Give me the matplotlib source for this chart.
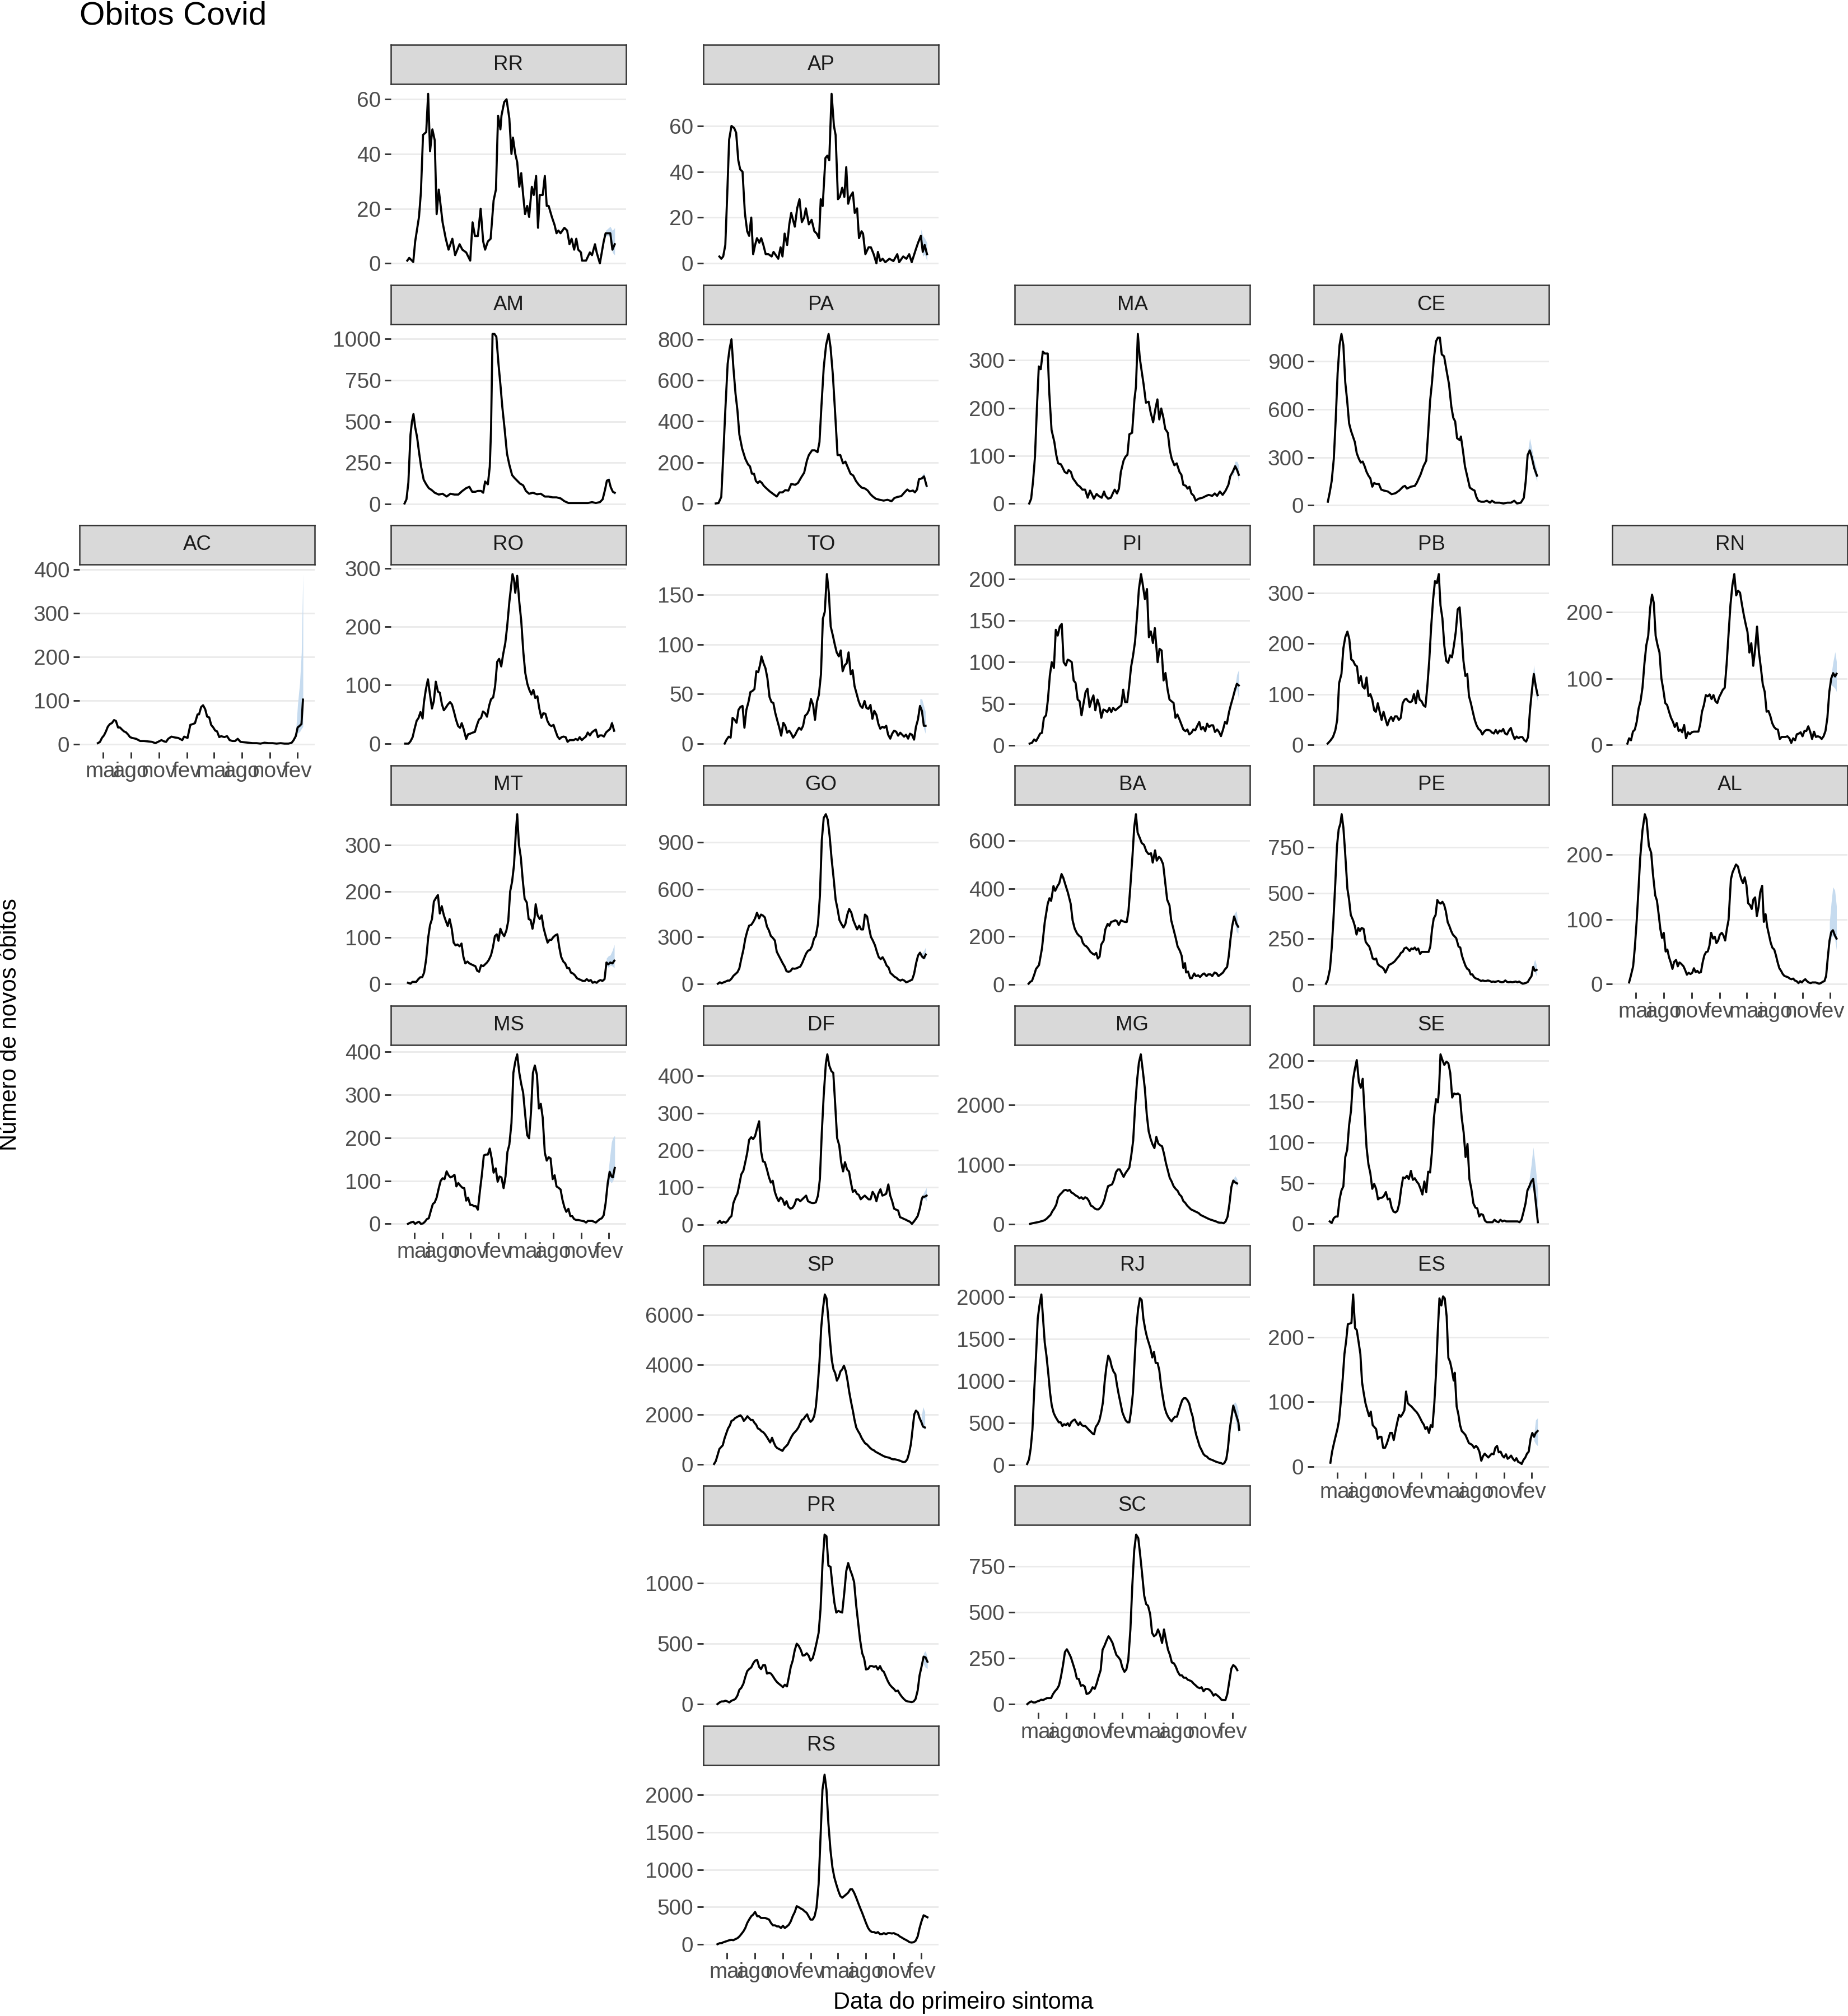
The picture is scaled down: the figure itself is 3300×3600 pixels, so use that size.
import numpy as np
import pandas as pd
import matplotlib
matplotlib.use('Agg')
import matplotlib.pyplot as plt

plt.rcParams['font.family'] = ['Liberation Sans', 'DejaVu Sans']

# semanas contadas a partir desta data
inicio = pd.Timestamp('2020-03-20')

# (semana, obitos)
RR = [(2.7,1),(3.6,2),(5.5,0.5),(6.4,8),(8.2,17),(9.1,26),(10.1,47),(11.6,48),(12.5,62),(13.4,41),(14.5,49),(15.6,45),(16.5,18),(17.5,27),(19.3,15),(20.8,9),(22.1,5),(23.9,9),(25.2,3),(27.3,7),(28.6,5),(30.4,4),(32.3,1),(33.4,15),(34.5,10),(35.9,10),(37.2,20),(38.4,8),(39.3,5),(40.6,8),(41.9,9),(43.3,23),(44.4,27),(45.4,54),(46.5,49),(47.0,54),(48.3,59),(49.4,60),(50.7,53),(51.7,40),(52.4,46),(53.5,40),(54.4,37),(55.4,28),(56.3,33),(57.2,25),(58.1,18),(59.1,21),(60.0,17),(61.3,28),(62.2,25),(63.3,32),(64.2,13),(65.0,25),(66.4,25),(67.4,32),(68.3,21),(69.2,21),(70.7,17),(72.0,14),(72.9,11),(73.8,12),(74.8,11),(76.6,13),(77.9,12),(79.0,7),(80.0,9),(81.2,5),(82.2,9),(83.1,5),(84.4,4),(84.9,1),(86.8,1),(88.6,4),(89.6,3),(91.0,7),(91.8,4),(93.3,0),(95.1,8),(96.0,11),(98.2,11),(99.2,5),(100.3,7)]
AP = [(2.5,3),(3.4,2),(4.3,3),(5.3,8),(6.2,30),(7.1,54),(8.2,60),(9.5,59),(10.4,57),(11.4,45),(12.3,41),(13.4,40),(14.5,22),(15.6,14),(16.5,12),(17.5,20),(18.4,4),(19.3,8),(20.2,11),(21.3,9),(22.2,11),(23.2,8),(24.3,4),(25.6,4),(27.1,3),(28.0,5),(30.2,2),(31.3,7),(32.2,3),(33.2,13),(34.4,8),(35.4,17),(36.3,22),(38.0,16),(39.1,24),(40.2,28),(41.3,18),(42.4,20),(43.2,24),(44.6,17),(45.9,19),(47.2,14),(48.3,13),(49.4,11),(50.2,28),(51.1,25),(52.4,46),(53.3,47),(54.2,45),(55.3,74),(56.4,60),(57.2,56),(58.3,28),(59.2,29),(60.3,33),(61.3,29),(62.2,42),(63.1,26),(64.0,29),(65.3,31),(66.2,22),(67.3,24),(68.2,11),(69.4,14),(70.1,13),(71.2,4),(72.7,7),(73.8,7),(75.1,4),(76.4,0),(77.1,5),(78.2,1),(79.3,2),(80.6,0.5),(82.5,2),(84.4,1),(86.2,4),(87.1,0.5),(89.0,3),(90.5,2),(91.8,4),(93.0,0.5),(94.9,6),(96.0,9),(97.3,12),(98.2,5),(99.1,8),(100.2,4)]
AM = [(1.4,3),(2.3,28),(3.2,130),(4.2,420),(4.9,500),(5.6,545),(6.4,465),(7.3,405),(8.2,315),(9.2,225),(10.4,147),(11.6,119),(12.8,96),(14.1,85),(15.6,68),(17.5,57),(19.3,62),(21.2,45),(23.0,62),(24.9,57),(26.7,57),(28.6,79),(30.4,96),(31.9,104),(33.2,74),(34.7,74),(35.9,79),(37.4,79),(38.4,68),(39.3,136),(40.6,119),(41.5,226),(42.1,452),(42.8,1030),(43.7,1030),(44.6,1013),(45.6,848),(46.5,724),(47.4,588),(48.5,452),(49.6,305),(50.7,238),(52.0,175),(53.1,158),(54.4,141),(55.7,124),(57.2,113),(58.5,79),(60.0,62),(61.8,68),(63.7,59),(65.5,62),(67.4,45),(69.2,45),(71.1,40),(72.9,40),(74.8,34),(76.6,17),(78.5,6),(80.3,6),(82.2,6),(84.0,6),(85.9,6),(87.7,6),(89.6,11),(91.4,6),(93.3,11),(94.6,28),(95.7,85),(96.6,141),(97.5,147),(98.4,102),(99.4,74),(100.3,68)]
PA = [(0.8,0),(2.1,2),(3.4,32),(4.3,227),(5.3,454),(6.4,680),(7.3,753),(8.2,800),(9.1,662),(10.1,535),(11.0,454),(11.9,336),(13.2,268),(14.7,218),(16.0,190),(16.9,181),(17.8,145),(18.8,145),(19.7,109),(20.6,100),(21.5,109),(22.5,100),(23.4,86),(24.3,77),(26.2,59),(28.0,45),(29.5,34),(30.8,54),(32.2,54),(33.5,65),(35.0,63),(36.3,95),(38.2,91),(39.5,100),(41.0,127),(42.4,150),(43.7,209),(44.6,236),(46.1,259),(47.4,259),(48.7,250),(49.6,299),(50.5,471),(51.6,662),(52.7,771),(53.9,826),(54.8,762),(55.9,626),(57.0,435),(58.1,236),(59.4,236),(60.7,195),(61.8,204),(63.1,172),(64.2,145),(65.5,136),(66.8,109),(68.1,91),(69.5,77),(71.0,73),(72.3,63),(73.6,45),(74.7,34),(76.1,23),(77.9,18),(79.8,14),(81.6,18),(83.5,11),(84.9,27),(86.4,32),(88.1,36),(89.6,54),(90.9,68),(92.1,59),(93.6,63),(94.5,54),(95.5,68),(96.4,118),(97.7,122),(98.8,132),(100.0,86)]
MA = [(1.8,0),(2.7,10),(3.6,47),(4.5,98),(5.4,199),(6.3,287),(7.2,281),(8.2,318),(9.1,314),(10.5,314),(11.2,234),(12.3,154),(13.6,129),(14.5,102),(15.4,84),(16.7,82),(17.4,76),(18.5,66),(19.6,63),(20.3,70),(21.4,66),(22.3,53),(23.6,45),(24.5,39),(25.7,35),(26.8,29),(28.1,29),(29.3,12),(30.4,27),(31.2,20),(32.2,10),(33.5,20),(34.4,16),(35.9,12),(37.0,25),(37.7,16),(38.9,10),(40.2,12),(41.3,23),(42.0,29),(43.1,21),(44.0,31),(44.9,66),(46.2,90),(47.1,98),(48.0,102),(48.9,145),(50.2,148),(51.3,218),(52.0,244),(52.9,355),(53.8,305),(54.7,277),(55.6,250),(56.7,211),(58.0,213),(58.9,191),(60.1,170),(61.2,199),(62.1,218),(63.0,176),(63.9,199),(64.9,180),(65.8,156),(67.0,148),(67.9,113),(68.8,94),(70.1,80),(71.2,84),(72.5,66),(73.4,60),(74.3,39),(75.5,37),(76.3,31),(77.2,35),(78.1,21),(79.2,16),(80.1,6),(81.5,10),(83.3,12),(85.1,16),(86.2,18),(87.9,16),(89.1,21),(90.2,16),(91.5,25),(92.8,18),(94.2,27),(95.5,39),(96.4,57),(97.5,66),(98.7,78),(99.6,70),(100.4,60)]
CE = [(1.6,23),(2.5,82),(3.4,152),(4.4,291),(5.3,536),(6.2,827),(7.1,1002),(8.0,1072),(8.9,1002),(9.8,769),(10.7,653),(11.6,513),(12.5,466),(13.4,431),(14.3,396),(15.2,326),(16.2,291),(17.1,268),(18.0,274),(18.9,245),(19.8,210),(20.7,186),(21.6,169),(22.5,117),(23.4,140),(24.3,134),(25.6,134),(26.7,99),(27.9,93),(29.8,87),(31.6,70),(33.4,76),(35.2,93),(37.0,117),(37.9,122),(38.8,105),(40.7,117),(42.5,122),(43.4,140),(45.2,192),(46.6,245),(47.9,280),(48.8,455),(49.7,653),(50.6,769),(51.5,921),(52.5,1026),(53.4,1049),(54.3,1049),(55.2,944),(56.3,932),(57.5,839),(58.6,758),(59.7,618),(60.6,548),(61.5,525),(62.4,420),(63.7,408),(64.2,431),(65.2,338),(66.1,245),(67.3,175),(68.4,111),(69.7,99),(70.6,93),(71.5,52),(72.4,29),(73.7,23),(75.1,23),(76.4,29),(77.9,17),(78.8,29),(80.2,17),(82.4,17),(84.2,12),(86.0,17),(87.8,17),(89.3,29),(90.6,12),(92.4,17),(93.8,47),(94.7,152),(95.6,315),(96.6,344),(97.5,303),(98.7,233),(100.0,186)]
AC = [(3.6,2),(4.6,5),(5.5,14),(6.5,20),(7.4,29),(8.3,40),(9.3,46),(10.2,48),(11.2,55),(12.1,53),(13.1,38),(14.0,38),(15.0,33),(15.9,29),(16.8,27),(17.8,22),(18.7,16),(19.7,14),(21.6,12),(23.5,7),(25.3,7),(27.2,6),(29.1,5),(30.6,2),(31.9,5),(33.5,9),(34.8,6),(35.7,5),(36.7,12),(38.2,17),(39.9,15),(41.4,14),(43.3,9),(44.2,17),(45.8,14),(47.1,44),(48.4,46),(49.3,48),(50.5,68),(51.2,68),(52.2,85),(53.1,89),(54.1,80),(55.0,63),(56.0,61),(56.9,44),(57.9,38),(58.8,31),(59.7,29),(60.7,16),(61.6,18),(63.1,16),(64.4,18),(65.6,9),(66.9,7),(68.2,7),(69.4,12),(70.7,5),(72.6,4),(74.5,3),(76.4,2),(78.3,2),(80.1,1),(82.0,3),(83.9,2),(85.8,2),(87.7,1),(89.6,2),(91.4,1),(93.3,1),(94.8,3),(95.7,9),(96.7,18),(97.6,38),(98.6,42),(99.4,46),(100.1,102)]
RO = [(1.7,0),(3.3,0),(4.2,4),(5.2,11),(6.1,25),(7.1,39),(8.0,44),(8.9,54),(9.9,43),(10.5,70),(11.4,92),(12.4,110),(13.3,86),(14.3,60),(15.2,73),(16.1,106),(17.1,89),(18.0,87),(19.0,67),(19.9,57),(20.9,62),(21.8,67),(22.8,71),(23.7,67),(24.7,54),(25.6,41),(26.6,30),(27.5,27),(28.3,35),(29.2,25),(30.4,8),(31.3,16),(32.3,17),(33.6,19),(34.5,20),(35.5,32),(36.4,41),(37.4,44),(38.3,55),(39.3,52),(40.2,46),(41.2,65),(42.1,76),(43.1,79),(44.0,98),(45.0,140),(45.9,145),(46.9,132),(47.8,153),(48.8,172),(49.7,201),(50.7,242),(51.6,271),(52.2,290),(52.9,280),(53.5,258),(54.4,287),(55.4,242),(56.3,210),(57.3,156),(58.2,121),(59.2,102),(60.1,92),(61.1,84),(62.0,92),(62.9,78),(63.9,81),(64.8,60),(65.8,44),(66.7,52),(67.7,51),(68.6,39),(69.6,32),(70.5,30),(71.5,32),(72.4,22),(73.4,12),(74.3,8),(75.3,11),(76.2,12),(77.2,11),(78.1,3),(79.1,6),(80.0,6),(81.0,6),(81.9,8),(82.9,6),(83.8,11),(84.8,6),(85.7,9),(86.7,12),(87.6,19),(88.6,14),(89.5,19),(90.5,22),(91.4,24),(92.4,11),(93.3,14),(94.3,14),(95.2,12),(96.2,19),(97.1,22),(98.1,25),(99.0,35),(100.0,22)]
TO = [(5.0,0),(5.9,4),(6.9,7),(7.8,6),(8.7,26),(9.7,24),(10.6,21),(11.5,34),(12.4,37),(13.4,38),(14.3,16),(15.2,34),(16.2,42),(17.1,52),(18.0,53),(19.0,55),(19.9,73),(20.8,72),(21.8,81),(22.3,88),(23.3,81),(24.2,76),(25.1,66),(26.1,47),(27.0,42),(27.9,41),(28.8,31),(29.8,23),(30.7,16),(31.6,8),(32.6,21),(33.5,18),(34.4,11),(35.4,13),(36.3,10),(37.2,6),(38.2,9),(39.1,13),(40.0,16),(41.0,14),(41.9,18),(42.8,28),(43.8,30),(44.7,34),(45.6,45),(46.6,39),(47.5,24),(48.4,42),(49.3,49),(50.3,70),(51.2,126),(52.1,133),(53.1,171),(54.0,152),(54.9,118),(55.9,109),(56.8,100),(57.7,92),(58.7,88),(59.6,94),(60.5,73),(61.5,79),(62.4,81),(63.3,92),(64.3,70),(65.2,74),(66.1,58),(67.0,51),(68.0,43),(68.9,38),(69.8,36),(70.8,43),(71.7,36),(72.6,35),(73.6,39),(74.5,25),(75.4,33),(76.4,29),(77.3,20),(78.2,15),(79.2,17),(80.1,16),(81.0,18),(81.9,9),(82.9,5),(83.8,10),(84.7,13),(85.7,12),(86.6,8),(87.6,11),(88.5,9),(89.4,7),(90.3,9),(91.3,5),(92.2,10),(93.1,9),(94.1,4),(95.0,17),(95.9,24),(96.9,38),(97.8,33),(98.7,18),(99.5,18)]
PI = [(2.0,2),(3.1,3),(4.1,7),(5.0,5),(5.9,9),(6.9,14),(7.8,15),(8.7,33),(9.7,36),(10.6,55),(11.5,84),(12.4,100),(13.4,93),(14.3,139),(15.2,132),(16.2,143),(17.1,146),(18.0,100),(19.0,96),(19.9,103),(20.8,102),(21.8,100),(22.7,78),(23.6,75),(24.6,55),(25.5,53),(26.4,36),(27.4,51),(28.3,64),(29.2,68),(30.2,46),(31.1,54),(32.0,60),(32.9,42),(33.9,55),(34.8,48),(35.7,33),(36.7,43),(37.6,42),(38.5,40),(39.5,45),(40.4,40),(41.3,45),(42.3,42),(43.2,44),(44.1,46),(45.1,48),(46.0,67),(46.9,52),(47.9,52),(48.8,71),(49.7,94),(50.6,107),(51.6,125),(52.5,155),(53.4,188),(54.4,206),(55.3,192),(56.2,176),(57.2,188),(58.1,130),(59.0,137),(60.0,123),(60.9,141),(62.2,100),(63.1,116),(64.1,114),(65.0,78),(65.9,87),(66.9,67),(67.8,55),(68.7,53),(69.7,51),(70.6,33),(71.5,37),(72.5,31),(73.4,25),(74.3,19),(75.3,17),(76.2,19),(77.1,13),(78.1,15),(79.0,19),(79.9,18),(80.8,23),(81.8,28),(82.7,19),(83.6,22),(84.6,17),(85.5,26),(86.4,22),(87.4,24),(88.3,24),(89.2,16),(90.2,19),(91.1,16),(92.0,11),(93.0,19),(93.9,28),(94.8,26),(95.8,40),(96.7,49),(97.6,57),(98.6,67),(99.5,74),(100.4,72)]
PB = [(1.5,2),(2.8,8),(4.0,15),(5.1,28),(6.0,49),(6.9,122),(8.0,140),(8.9,191),(9.8,213),(10.8,224),(11.7,209),(12.6,169),(13.5,166),(14.4,158),(15.3,155),(16.2,122),(17.1,136),(18.0,115),(18.9,111),(19.8,133),(20.7,96),(21.6,100),(22.5,89),(23.4,68),(24.2,65),(25.1,82),(26.0,65),(26.9,49),(27.8,65),(28.7,51),(29.6,38),(30.5,49),(31.4,55),(32.3,47),(33.2,56),(34.1,56),(35.0,49),(35.9,53),(36.8,82),(37.7,89),(38.5,91),(39.4,86),(40.3,84),(41.2,86),(42.1,100),(43.0,82),(43.9,107),(44.8,89),(45.7,86),(46.6,78),(47.5,75),(48.4,115),(49.3,166),(50.2,233),(51.1,287),(52.0,324),(52.9,320),(53.8,338),(54.6,276),(55.5,250),(56.4,196),(57.3,166),(58.2,162),(59.1,177),(60.0,173),(60.9,196),(61.8,224),(62.7,268),(63.6,272),(64.5,224),(65.4,166),(66.3,136),(67.2,140),(68.0,96),(68.9,82),(69.8,65),(70.7,49),(71.6,38),(72.5,31),(73.4,28),(74.3,20),(75.2,26),(76.1,29),(77.0,29),(77.9,28),(78.8,24),(79.7,22),(80.6,29),(81.5,22),(82.4,28),(83.3,26),(84.1,31),(85.0,22),(85.9,20),(86.8,28),(87.7,33),(88.6,20),(89.5,11),(90.4,16),(91.3,13),(92.2,15),(93.1,15),(94.0,9),(94.9,6),(95.8,15),(96.7,68),(97.6,107),(98.5,140),(99.4,116),(100.3,98)]
RN = [(2.1,2),(2.9,10),(3.8,7),(4.7,20),(5.6,23),(6.5,35),(7.4,55),(8.3,66),(9.2,86),(10.1,122),(11.0,150),(11.9,164),(12.8,206),(13.7,226),(14.5,214),(15.4,164),(16.3,150),(17.2,139),(18.1,100),(19.0,83),(19.9,63),(20.8,60),(21.7,50),(22.6,41),(23.5,35),(24.4,27),(25.3,33),(26.2,21),(27.1,23),(27.9,19),(28.8,30),(29.7,10),(30.6,19),(31.5,16),(32.4,19),(33.3,20),(34.6,20),(35.5,20),(36.3,30),(37.2,50),(38.1,60),(39.0,75),(39.9,73),(40.8,76),(41.7,69),(42.6,75),(43.5,66),(44.4,63),(45.3,72),(46.1,77),(47.0,83),(47.9,86),(48.8,122),(49.7,167),(50.6,211),(51.5,240),(52.4,257),(53.3,225),(54.2,232),(55.1,229),(56.0,211),(56.9,195),(57.8,181),(58.6,170),(59.5,139),(60.4,153),(61.3,119),(62.2,144),(63.1,178),(64.0,139),(64.9,116),(65.8,91),(66.7,80),(67.6,50),(68.5,51),(69.4,43),(70.2,33),(71.1,27),(72.0,24),(72.9,23),(73.8,9),(74.7,12),(75.6,12),(76.5,12),(77.4,13),(78.3,10),(79.2,3),(80.1,10),(81.0,7),(81.8,16),(82.7,17),(83.6,19),(84.5,13),(85.4,21),(86.3,21),(87.2,28),(88.1,20),(89.0,9),(89.9,20),(90.8,12),(91.7,13),(92.6,12),(93.5,9),(94.4,13),(95.3,21),(96.2,41),(97.1,80),(98.0,100),(98.9,108),(99.8,103),(100.5,107)]
MT = [(3.0,2),(4.2,0),(5.1,4),(6.0,4),(6.9,4),(7.9,10),(8.8,14),(9.7,14),(10.6,24),(11.6,54),(12.5,99),(13.4,127),(14.3,140),(15.2,178),(16.2,186),(17.1,192),(18.0,152),(18.9,168),(19.9,148),(20.8,136),(21.7,125),(22.6,140),(23.6,119),(24.5,89),(25.4,83),(26.3,85),(27.3,81),(28.2,87),(29.1,58),(30.0,44),(31.0,48),(31.9,44),(32.8,42),(33.7,40),(34.7,38),(35.6,28),(36.5,26),(37.4,40),(38.4,38),(39.3,42),(40.2,46),(41.1,52),(42.1,62),(43.0,79),(43.9,103),(44.8,107),(45.6,93),(46.5,119),(47.4,109),(48.3,103),(49.3,115),(50.2,136),(51.1,200),(52.0,221),(52.9,257),(53.7,322),(54.4,367),(55.2,302),(56.1,274),(57.0,225),(57.9,184),(58.9,176),(59.8,140),(60.7,138),(61.6,119),(62.6,144),(63.1,172),(64.0,148),(65.0,140),(65.9,148),(66.8,121),(67.7,105),(68.7,89),(69.6,95),(70.5,95),(71.4,101),(72.4,105),(73.3,107),(74.2,79),(75.1,58),(76.1,48),(77.0,44),(77.9,34),(78.8,34),(79.7,24),(80.7,22),(81.6,18),(82.5,12),(83.4,10),(84.4,8),(85.3,6),(86.2,6),(87.1,10),(88.1,6),(89.0,8),(89.9,2),(90.8,4),(91.8,2),(92.7,6),(93.6,8),(94.5,6),(95.5,10),(96.4,46),(97.3,42),(98.2,46),(99.2,44),(100.1,50)]
GO = [(1.8,2),(2.7,11),(3.6,5),(4.5,11),(5.5,16),(6.4,22),(7.3,22),(8.2,34),(9.1,52),(10.1,64),(11.0,75),(11.9,99),(12.8,158),(13.8,217),(14.7,287),(15.6,334),(16.5,370),(17.5,375),(18.4,393),(19.3,416),(20.2,452),(21.2,416),(22.1,440),(23.0,434),(23.9,422),(24.9,364),(25.8,340),(26.7,305),(27.6,293),(28.6,276),(29.5,205),(30.4,181),(31.3,158),(32.2,134),(33.2,111),(34.1,81),(35.0,78),(35.9,81),(36.9,99),(37.8,97),(38.7,99),(39.6,105),(40.6,111),(41.5,134),(42.4,164),(43.3,193),(44.2,211),(45.2,217),(46.1,240),(47.0,287),(47.9,305),(48.9,381),(49.8,558),(50.7,912),(51.6,1053),(52.6,1076),(53.5,1041),(54.4,935),(55.3,794),(56.3,665),(57.2,535),(58.1,476),(59.0,405),(59.9,381),(60.9,358),(61.8,381),(62.7,440),(63.6,476),(64.6,452),(65.5,405),(66.4,375),(67.3,346),(68.3,370),(69.2,346),(70.1,346),(71.0,440),(72.0,428),(72.9,358),(73.8,299),(74.7,276),(75.7,246),(76.6,205),(77.5,170),(78.4,158),(79.3,170),(80.3,146),(81.2,117),(82.1,105),(83.0,70),(84.0,58),(84.9,46),(85.8,40),(86.7,28),(87.7,22),(88.6,28),(89.5,22),(90.4,11),(91.4,16),(92.3,22),(93.2,28),(94.1,64),(95.1,134),(96.0,181),(96.9,199),(97.8,175),(98.7,164),(99.6,187)]
BA = [(1.5,3),(2.3,11),(3.1,15),(4.2,42),(5.0,65),(6.4,81),(7.8,151),(9.1,260),(10.5,337),(11.3,360),(12.1,349),(13.2,411),(14.0,391),(15.1,411),(15.9,422),(17.0,461),(17.8,446),(18.9,414),(20.0,383),(21.3,337),(22.2,268),(23.2,233),(24.3,213),(25.4,202),(26.2,198),(27.0,174),(27.9,163),(28.7,159),(29.5,151),(30.6,136),(31.7,128),(32.5,124),(33.3,132),(34.1,108),(34.9,116),(35.7,167),(36.8,183),(37.6,230),(38.7,253),(39.5,245),(40.3,261),(41.4,264),(42.3,268),(43.1,264),(43.9,248),(45.0,268),(45.8,264),(46.9,261),(47.7,261),(48.5,307),(49.3,400),(50.4,540),(51.2,657),(52.0,711),(52.8,634),(53.9,610),(54.7,591),(55.8,583),(56.9,556),(58.0,544),(59.1,548),(59.9,509),(61.0,560),(61.8,517),(62.9,533),(63.7,525),(64.8,502),(65.6,440),(66.7,354),(67.8,330),(68.6,268),(69.7,230),(70.8,191),(71.6,159),(72.7,140),(73.5,120),(74.3,69),(75.1,89),(75.6,50),(76.5,54),(77.5,26),(78.3,26),(79.4,46),(80.2,35),(81.3,38),(82.2,31),(83.3,42),(84.1,46),(85.2,35),(86.0,42),(87.1,42),(87.9,35),(89.0,50),(90.0,46),(90.8,35),(91.9,42),(93.0,50),(93.8,62),(94.9,73),(95.7,120),(96.5,190),(97.3,244),(98.2,284),(99.3,253),(100.1,241)]
PE = [(0.7,4),(1.5,24),(2.6,85),(3.4,197),(4.2,349),(5.1,552),(5.9,757),(6.7,849),(7.5,879),(8.1,931),(8.9,859),(9.7,727),(10.8,523),(11.6,463),(12.4,380),(13.5,350),(14.3,319),(15.1,273),(15.9,309),(16.7,293),(17.5,309),(18.4,304),(19.4,233),(20.3,218),(21.1,207),(21.9,178),(22.7,142),(23.5,137),(24.3,142),(25.1,111),(26.0,101),(27.0,95),(27.9,85),(28.7,65),(29.5,85),(30.3,106),(31.1,111),(31.9,116),(33.0,126),(34.1,142),(35.2,157),(36.0,173),(36.8,178),(37.6,197),(38.5,202),(39.3,193),(40.1,183),(40.9,197),(41.7,193),(42.5,202),(43.3,188),(44.1,197),(45.0,167),(45.8,178),(46.6,178),(47.4,178),(48.2,178),(49.0,178),(49.8,207),(50.6,299),(51.4,360),(52.3,380),(53.1,462),(53.9,447),(54.7,442),(55.5,452),(56.3,436),(57.1,401),(58.0,340),(58.8,319),(59.6,293),(60.4,273),(61.2,263),(62.0,253),(63.1,207),(63.9,202),(64.7,157),(65.6,126),(66.4,101),(67.2,85),(68.0,80),(68.8,55),(69.6,55),(70.4,40),(71.2,33),(72.1,30),(72.9,24),(73.7,19),(74.5,22),(75.3,19),(76.1,19),(76.9,22),(77.8,19),(78.6,14),(79.4,16),(80.2,14),(81.0,16),(81.8,19),(82.7,14),(83.5,12),(84.3,14),(85.1,22),(85.9,14),(86.7,12),(87.5,14),(88.4,12),(89.2,14),(90.0,16),(90.8,12),(91.6,16),(92.5,9),(93.3,4),(94.1,6),(94.9,9),(95.7,14),(96.5,30),(97.4,45),(98.2,96),(99.0,75),(99.8,80)]
AL = [(2.9,2),(3.7,12),(4.8,27),(5.6,56),(6.5,99),(7.3,145),(8.1,194),(9.2,238),(10.3,263),(11.1,255),(12.2,214),(13.3,203),(14.1,171),(15.2,137),(16.0,129),(16.8,108),(17.6,85),(18.4,71),(19.2,79),(20.1,50),(20.9,53),(21.7,41),(22.5,33),(23.3,23),(24.1,34),(25.0,37),(25.8,27),(26.6,33),(27.4,31),(28.5,27),(29.3,21),(30.1,14),(30.9,17),(31.8,15),(32.6,17),(33.4,24),(34.2,18),(35.0,20),(35.8,17),(36.7,18),(37.5,33),(38.3,44),(39.1,49),(39.9,50),(40.7,59),(41.5,79),(42.4,70),(43.2,73),(44.0,63),(44.8,67),(45.6,76),(46.5,79),(47.3,75),(48.1,67),(48.9,85),(49.7,99),(50.8,162),(51.6,173),(52.4,179),(53.2,185),(54.1,182),(54.9,171),(55.7,162),(56.5,156),(57.3,165),(58.1,153),(58.9,125),(59.8,122),(60.6,116),(61.4,131),(62.2,134),(63.0,105),(63.8,119),(64.6,142),(65.5,152),(66.3,96),(67.1,108),(67.9,88),(68.7,76),(69.5,64),(70.3,56),(71.2,53),(72.0,44),(72.8,33),(73.6,24),(74.4,20),(75.2,15),(76.0,12),(76.9,11),(77.7,10),(78.5,8),(79.3,7),(80.1,8),(80.9,5),(81.7,4),(82.6,1),(83.4,4),(84.2,2),(85.0,5),(85.8,7),(86.6,4),(87.4,2),(88.3,1),(89.1,2),(89.9,2),(90.7,2),(91.5,1),(92.3,0),(93.1,1),(94.0,3),(94.8,4),(95.6,12),(96.4,41),(97.2,67),(98.0,80),(98.8,83),(99.7,75),(100.5,70)]
MS = [(3.0,0),(4.2,3),(5.5,5),(6.4,0),(7.3,3),(8.2,5),(9.1,0),(10.1,1),(11.0,5),(11.9,11),(12.8,13),(13.8,31),(14.7,46),(15.6,50),(16.5,61),(17.5,83),(18.4,100),(19.3,106),(20.2,104),(21.2,122),(22.1,113),(23.0,108),(23.9,110),(24.9,114),(25.8,87),(26.7,95),(27.6,89),(28.6,84),(29.5,83),(30.4,54),(31.3,61),(32.3,44),(33.2,44),(34.1,41),(35.0,41),(35.9,33),(36.9,78),(37.8,115),(38.7,159),(39.6,161),(40.6,161),(41.5,175),(42.4,152),(43.3,119),(44.3,129),(45.2,98),(46.1,110),(47.0,108),(48.0,83),(48.9,110),(49.8,167),(50.7,184),(51.7,234),(52.6,351),(53.5,377),(54.4,394),(55.4,351),(56.3,325),(57.2,305),(58.1,257),(59.1,206),(60.0,199),(60.9,260),(61.8,351),(62.7,368),(63.7,346),(64.6,268),(65.5,279),(66.4,247),(67.4,165),(68.3,147),(69.2,155),(70.1,152),(71.1,104),(72.0,113),(72.9,87),(73.8,84),(74.8,80),(75.7,56),(76.6,39),(77.5,28),(78.5,35),(79.4,18),(80.3,18),(81.2,11),(82.2,9),(83.1,9),(84.0,8),(84.9,7),(85.9,6),(86.8,3),(87.7,7),(88.6,7),(89.6,7),(90.5,5),(91.4,3),(92.3,7),(93.3,11),(94.2,13),(95.1,20),(96.0,48),(97.0,95),(97.9,121),(98.8,110),(99.4,108),(100.3,130)]
DF = [(1.8,5),(2.7,10),(3.6,4),(4.5,8),(5.5,5),(6.4,10),(7.3,18),(8.2,23),(9.1,58),(10.1,73),(11.0,83),(11.9,108),(12.8,135),(13.8,145),(14.7,168),(15.6,193),(16.5,228),(17.5,235),(18.4,230),(19.3,238),(20.2,258),(21.2,278),(22.1,198),(23.0,170),(23.9,168),(24.9,148),(25.8,128),(26.7,113),(27.6,118),(28.6,88),(29.5,73),(30.4,63),(31.3,73),(32.2,68),(33.2,53),(34.1,63),(35.0,48),(35.9,43),(36.9,45),(37.8,53),(38.7,68),(39.6,68),(40.6,63),(41.5,68),(42.4,73),(43.3,78),(44.2,63),(45.2,60),(46.1,58),(47.0,58),(47.9,60),(48.9,78),(49.8,123),(50.7,248),(51.6,348),(52.6,433),(53.3,458),(54.2,428),(55.2,413),(56.1,408),(57.0,323),(57.9,233),(58.9,213),(59.8,168),(60.7,143),(61.6,168),(62.6,148),(63.5,143),(64.4,113),(65.3,88),(66.3,93),(67.2,83),(68.1,80),(69.0,68),(69.9,73),(70.9,78),(71.8,73),(72.7,68),(73.6,68),(74.6,88),(75.5,80),(76.4,63),(77.3,83),(78.3,95),(79.2,78),(80.1,80),(81.0,83),(82.0,108),(82.9,78),(83.8,63),(84.7,43),(85.7,40),(86.6,38),(87.5,20),(88.4,18),(89.4,15),(90.3,13),(91.2,10),(92.1,8),(93.1,2),(94.0,8),(94.9,15),(95.8,23),(96.8,43),(97.7,68),(98.2,75),(99.1,75),(100.0,78)]
MG = [(2.2,6),(3.3,16),(4.5,25),(5.4,31),(6.3,37),(7.2,47),(8.2,56),(9.1,69),(10.0,93),(10.9,125),(11.8,156),(12.7,218),(13.6,265),(14.5,327),(15.4,452),(16.3,498),(17.2,530),(18.1,567),(19.0,576),(19.9,561),(20.8,576),(21.7,530),(22.6,514),(23.6,483),(24.5,467),(25.4,436),(26.3,452),(27.2,421),(28.1,452),(29.0,436),(29.9,389),(30.8,312),(31.7,296),(32.6,265),(33.5,249),(34.4,249),(35.3,280),(36.2,327),(37.1,405),(38.0,530),(38.9,639),(39.9,654),(40.8,670),(41.7,748),(42.6,872),(43.5,919),(44.4,919),(45.3,857),(46.2,794),(47.1,857),(48.0,903),(48.9,950),(49.8,1153),(50.7,1402),(51.6,1963),(52.5,2399),(53.4,2710),(54.3,2850),(55.3,2555),(56.2,2274),(57.1,1838),(58.0,1558),(58.9,1433),(59.8,1340),(60.7,1277),(61.6,1464),(62.5,1355),(63.4,1324),(64.3,1308),(65.2,1184),(66.1,1028),(67.0,903),(67.9,779),(68.8,717),(69.7,639),(70.7,592),(71.6,561),(72.5,498),(73.4,467),(74.3,389),(75.2,358),(76.1,312),(77.0,280),(77.9,249),(78.8,234),(79.7,218),(80.6,203),(81.5,187),(82.4,156),(83.3,140),(84.2,125),(85.1,109),(86.0,93),(87.0,78),(87.9,69),(88.8,56),(89.7,47),(90.6,31),(91.5,25),(92.4,25),(93.3,16),(94.2,47),(95.1,125),(96.0,343),(96.9,623),(97.8,732),(98.7,701),(99.6,685)]
SE = [(2.5,3),(3.4,1),(4.4,7),(5.3,9),(6.2,9),(7.1,30),(8.0,41),(8.9,46),(9.8,82),(10.7,91),(11.6,121),(12.5,139),(13.4,176),(14.3,190),(15.2,201),(16.2,174),(17.1,167),(18.0,178),(18.9,135),(19.8,94),(20.7,73),(21.6,62),(22.5,43),(23.4,49),(24.3,43),(25.2,30),(26.1,32),(27.0,32),(27.9,34),(28.9,39),(29.8,30),(30.7,31),(31.6,20),(32.5,15),(33.4,14),(34.3,16),(35.2,25),(36.1,43),(37.0,57),(37.9,56),(38.8,59),(39.7,55),(40.7,65),(41.6,54),(42.5,56),(43.4,52),(44.3,49),(45.2,43),(46.1,36),(47.0,52),(47.9,39),(48.8,64),(49.7,63),(50.6,89),(51.5,130),(52.5,153),(53.4,149),(53.9,165),(54.6,208),(55.5,201),(56.4,195),(57.4,199),(58.3,197),(59.2,185),(60.1,155),(61.0,160),(61.9,159),(62.8,160),(63.7,158),(64.6,130),(65.5,112),(66.4,82),(67.3,98),(68.2,55),(69.1,43),(70.1,25),(71.0,20),(71.9,19),(72.8,9),(73.7,12),(74.6,11),(75.5,4),(76.4,2),(77.3,2),(78.2,2),(79.1,2),(80.0,5),(80.9,3),(81.9,2),(82.8,5),(83.7,3),(84.6,4),(85.5,3),(86.4,3),(87.3,3),(88.2,3),(89.1,3),(90.0,3),(90.9,3),(91.8,2),(92.7,5),(93.6,14),(94.6,25),(95.5,41),(96.4,46),(97.3,52),(98.2,55),(99.3,30),(100.4,2)]
SP = [(0.0,8),(0.8,120),(1.6,346),(2.5,609),(3.3,684),(4.1,759),(4.9,1023),(5.8,1248),(6.6,1436),(7.4,1549),(8.2,1737),(9.1,1774),(9.9,1850),(10.7,1887),(11.5,1925),(12.4,1962),(13.2,1887),(14.0,1737),(14.8,1812),(15.7,1925),(16.5,1850),(17.3,1774),(18.2,1774),(19.0,1662),(19.8,1586),(20.6,1436),(21.5,1398),(22.3,1323),(23.1,1286),(23.9,1211),(24.8,1098),(25.6,985),(26.4,872),(27.3,1060),(28.1,872),(28.9,722),(29.7,647),(30.6,609),(31.4,571),(32.2,534),(33.0,647),(33.9,722),(34.7,797),(35.5,947),(36.4,1098),(37.2,1211),(38.0,1286),(38.8,1361),(39.7,1474),(40.5,1624),(41.3,1774),(42.1,1812),(43.0,1925),(43.8,2000),(44.6,1812),(45.4,1699),(46.3,1774),(47.1,1925),(47.9,2301),(48.7,3053),(49.6,4105),(50.4,5459),(51.2,6211),(52.1,6812),(52.9,6662),(53.7,5910),(54.5,5008),(55.4,4180),(56.2,3804),(57.0,3654),(57.8,3353),(58.7,3504),(59.5,3729),(60.3,3804),(61.1,3955),(62.0,3729),(62.8,3353),(63.6,2902),(64.4,2526),(65.3,2150),(66.1,1774),(66.9,1474),(67.8,1323),(68.6,1211),(69.4,1060),(70.2,947),(71.1,835),(71.9,797),(72.7,722),(73.5,647),(74.4,586),(75.2,556),(76.0,496),(76.9,459),(77.7,421),(78.5,383),(79.3,346),(80.2,308),(81.0,286),(81.8,271),(82.6,256),(83.5,211),(84.3,195),(85.1,195),(85.9,180),(86.8,158),(87.6,135),(88.4,105),(89.3,83),(90.1,105),(90.9,195),(91.7,421),(92.6,797),(93.4,1398),(94.2,2000),(95.0,2150),(95.9,2075),(96.7,1850),(97.5,1699),(98.3,1511),(99.2,1474)]
RJ = [(0.8,11),(1.7,66),(2.5,198),(3.3,419),(4.1,860),(5.0,1301),(5.8,1742),(6.6,1896),(7.5,2029),(8.3,1742),(9.1,1455),(9.9,1301),(10.8,1080),(11.6,860),(12.4,706),(13.3,618),(14.1,574),(14.9,540),(15.7,507),(16.6,507),(17.4,463),(18.2,485),(19.1,474),(19.9,496),(20.7,463),(21.5,507),(22.4,529),(23.2,540),(24.0,507),(24.9,474),(25.7,507),(26.5,474),(27.3,463),(28.2,463),(29.0,441),(29.8,419),(30.7,397),(31.5,375),(32.3,364),(33.1,452),(34.0,485),(34.8,529),(35.6,618),(36.5,750),(37.3,993),(38.1,1169),(39.0,1301),(39.8,1257),(40.6,1169),(41.4,1114),(42.3,1080),(43.1,948),(43.9,838),(44.8,728),(45.6,629),(46.4,574),(47.2,529),(48.1,507),(48.9,507),(49.7,640),(50.6,860),(51.4,1257),(52.2,1632),(53.0,1852),(53.9,1985),(54.7,1963),(55.5,1742),(56.4,1610),(57.2,1521),(58.0,1455),(58.8,1389),(59.7,1279),(60.5,1345),(61.3,1213),(62.2,1213),(63.0,1125),(63.8,948),(64.6,816),(65.5,684),(66.3,618),(67.1,574),(68.0,540),(68.8,518),(69.6,551),(70.4,574),(71.3,574),(72.1,640),(72.9,706),(73.8,772),(74.6,794),(75.4,794),(76.2,772),(77.1,728),(77.9,640),(78.7,574),(79.6,441),(80.4,353),(81.2,287),(82.0,220),(82.9,176),(83.7,132),(84.5,110),(85.4,99),(86.2,77),(87.0,66),(87.8,60),(88.7,49),(89.5,40),(90.3,33),(91.2,26),(92.0,22),(92.8,11),(93.6,22),(94.5,66),(95.3,198),(96.1,419),(97.0,574),(97.8,706),(98.6,640),(99.4,574),(100.2,507),(100.6,419)]
ES = [(2.8,6),(3.6,23),(4.4,35),(5.2,46),(6.1,58),(6.9,72),(7.7,101),(8.6,136),(9.4,174),(10.2,194),(11.0,220),(11.9,221),(12.7,222),(13.5,266),(14.4,214),(15.2,211),(16.0,194),(16.9,174),(17.7,130),(18.5,113),(19.3,98),(20.2,87),(21.0,78),(21.8,85),(22.7,64),(23.5,61),(24.3,58),(25.1,43),(26.0,46),(26.8,46),(27.6,29),(28.5,29),(29.3,35),(30.1,43),(30.9,52),(31.8,52),(32.6,41),(33.4,55),(34.3,69),(35.1,80),(35.9,77),(36.7,81),(37.6,87),(38.4,116),(39.2,98),(40.1,95),(40.9,93),(41.7,90),(42.5,87),(43.4,84),(44.2,80),(45.0,75),(45.9,69),(46.7,65),(47.5,58),(48.3,61),(49.2,52),(50.0,64),(50.8,61),(51.7,98),(52.5,145),(53.3,208),(54.1,260),(55.0,249),(55.8,263),(56.6,260),(57.5,232),(58.3,168),(59.1,162),(59.9,150),(60.8,133),(61.3,145),(62.2,93),(63.0,81),(63.8,64),(64.6,55),(65.5,52),(66.3,49),(67.1,43),(68.0,36),(68.8,35),(69.6,33),(70.4,29),(71.3,32),(72.1,29),(72.9,23),(73.8,9),(74.6,16),(75.4,20),(76.2,17),(77.1,14),(77.9,17),(78.7,20),(79.6,19),(80.4,29),(81.2,32),(82.0,22),(82.9,23),(83.7,17),(84.5,14),(85.4,19),(86.2,12),(87.0,14),(87.8,17),(88.7,12),(89.5,9),(90.3,13),(91.2,7),(92.0,6),(92.8,4),(93.6,10),(94.5,14),(95.3,20),(96.1,23),(97.0,43),(97.8,52),(98.6,46),(99.4,52),(100.3,55)]
PR = [(1.6,0),(2.6,14),(3.5,22),(4.4,22),(5.4,28),(6.3,22),(7.2,14),(8.2,28),(9.1,34),(10.0,42),(11.0,70),(11.9,118),(12.8,134),(13.8,168),(14.7,224),(15.6,272),(16.5,289),(17.5,303),(18.4,336),(19.3,359),(20.3,364),(21.2,308),(22.1,289),(23.1,322),(24.0,322),(24.9,252),(25.9,258),(26.8,252),(27.7,230),(28.7,202),(29.6,182),(30.5,168),(31.5,154),(32.4,140),(33.3,160),(34.3,146),(35.2,224),(36.1,308),(37.0,359),(38.0,448),(38.9,499),(39.8,482),(40.8,448),(41.7,401),(42.6,403),(43.6,420),(44.5,401),(45.4,359),(46.4,378),(47.3,434),(48.2,504),(49.2,588),(50.1,784),(51.0,1148),(52.0,1400),(52.9,1386),(53.8,1143),(54.8,1134),(55.7,980),(56.6,840),(57.5,756),(58.5,770),(59.4,762),(60.3,756),(61.3,924),(62.2,1098),(63.1,1165),(64.1,1106),(65.0,1064),(65.9,1008),(66.9,812),(67.8,672),(68.7,532),(69.7,420),(70.6,378),(71.5,286),(72.5,291),(73.4,314),(74.3,314),(75.3,308),(76.2,314),(77.1,286),(78.1,314),(79.0,280),(79.9,266),(80.9,224),(81.8,188),(82.7,160),(83.7,140),(84.6,126),(85.5,106),(86.5,112),(87.4,84),(88.3,62),(89.3,42),(90.2,28),(91.1,22),(92.0,20),(93.0,17),(93.9,22),(94.8,42),(95.8,112),(96.7,238),(97.6,308),(98.6,392),(99.5,386),(100.4,350)]
SC = [(0.9,0),(1.8,9),(2.8,15),(3.7,9),(4.6,9),(5.6,15),(6.5,18),(7.4,24),(8.3,22),(9.3,28),(10.2,33),(11.1,33),(12.1,33),(13.0,55),(13.9,70),(14.9,83),(15.8,102),(16.7,148),(17.7,213),(18.6,284),(19.5,299),(20.5,277),(21.4,255),(22.3,222),(23.3,185),(24.2,139),(25.1,137),(26.1,100),(27.0,104),(27.9,96),(28.8,55),(29.8,59),(30.7,70),(31.6,92),(32.6,83),(33.5,111),(34.4,148),(35.4,185),(36.3,296),(37.2,318),(38.2,347),(39.1,370),(40.0,355),(41.0,333),(41.9,299),(42.8,268),(43.8,255),(44.7,240),(45.6,200),(46.6,176),(47.5,189),(48.4,240),(49.4,407),(50.3,647),(51.2,839),(52.1,924),(53.1,905),(54.0,813),(54.9,711),(55.9,591),(56.8,545),(57.7,536),(58.7,490),(59.6,388),(60.5,370),(61.5,379),(62.4,407),(63.3,379),(64.3,333),(65.2,407),(66.1,351),(67.1,296),(68.0,268),(68.9,227),(69.9,222),(70.8,203),(71.7,176),(72.7,157),(73.6,157),(74.5,144),(75.5,144),(76.4,133),(77.3,129),(78.2,124),(79.2,111),(80.1,102),(81.0,92),(82.0,87),(82.9,92),(83.8,70),(84.8,83),(85.7,83),(86.6,78),(87.6,65),(88.5,46),(89.4,55),(90.4,46),(91.3,37),(92.2,24),(93.2,22),(94.1,22),(95.0,55),(96.0,129),(96.9,194),(97.8,213),(98.8,203),(99.7,185)]
RS = [(1.6,0),(2.6,14),(3.5,14),(4.4,27),(5.4,36),(6.3,45),(7.2,54),(8.2,59),(9.1,54),(10.0,68),(11.0,81),(11.9,104),(12.8,135),(13.8,172),(14.7,217),(15.6,284),(16.5,330),(17.5,375),(18.4,397),(19.3,433),(20.3,375),(21.2,375),(22.1,352),(23.1,352),(24.0,352),(24.9,343),(25.9,330),(26.8,284),(27.7,253),(28.7,253),(29.6,239),(30.5,239),(31.5,217),(32.4,248),(33.3,217),(34.3,239),(35.2,262),(36.1,307),(37.0,375),(38.0,433),(38.9,510),(39.8,497),(40.8,479),(41.7,465),(42.6,442),(43.6,420),(44.5,375),(45.4,330),(46.4,330),(47.3,375),(48.2,488),(49.2,804),(50.1,1436),(51.0,2068),(52.0,2271),(52.9,2068),(53.8,1616),(54.8,1255),(55.7,1029),(56.6,894),(57.5,804),(58.5,713),(59.4,646),(60.3,623),(61.3,646),(62.2,668),(63.1,691),(64.1,736),(65.0,736),(65.9,691),(66.9,623),(67.8,555),(68.7,488),(69.7,420),(70.6,352),(71.5,284),(72.5,217),(73.4,181),(74.3,163),(75.3,163),(76.2,149),(77.1,163),(78.1,135),(79.0,135),(79.9,149),(80.9,135),(81.8,149),(82.7,149),(83.7,144),(84.6,149),(85.5,135),(86.5,126),(87.4,104),(88.3,90),(89.3,72),(90.2,59),(91.1,45),(92.0,27),(93.0,23),(93.9,27),(94.8,45),(95.8,104),(96.7,217),(97.6,307),(98.6,388),(99.5,375),(100.4,361)]

# nowcasting: (semana, limite inferior, limite superior)
RR_nc = [(96.0,10,12),(98.2,10,13.5),(99.2,4,12),(100.3,3,13)]
AP_nc = [(97.3,10,15),(98.2,3,12),(99.1,4,11),(100.2,1,9)]
AM_nc = [(97.5,140,175),(98.4,95,112),(99.4,65,80),(100.3,55,75)]
PA_nc = [(97.7,115,135),(98.8,125,150),(100.0,70,95)]
MA_nc = [(97.5,55,70),(98.7,72,88),(99.6,62,88),(100.4,43,80)]
CE_nc = [(95.6,300,330),(96.6,340,420),(97.5,290,360),(98.7,200,280),(100.0,150,220)]
AC_nc = [(96.7,15,25),(97.6,25,90),(98.6,28,140),(99.4,35,210),(100.1,40,390)]
RO_nc = [(98.1,24,28),(99.0,33,41),(100.0,18,24)]
TO_nc = [(96.9,38,45),(97.8,30,45),(98.7,15,38),(99.5,10,32)]
PI_nc = [(98.6,62,70),(99.5,68,85),(100.4,55,91)]
PB_nc = [(97.6,100,112),(98.5,135,158),(99.4,100,128),(100.3,86,105)]
RN_nc = [(98.0,90,105),(98.9,88,125),(99.8,85,140),(100.5,80,125)]
MT_nc = [(96.4,40,55),(97.3,35,60),(98.2,40,62),(99.2,38,72),(100.1,34,85)]
GO_nc = [(97.8,165,195),(98.7,160,210),(99.6,158,234)]
BA_nc = [(98.2,270,295),(99.3,220,307),(100.1,213,250)]
PE_nc = [(98.2,85,105),(99.0,65,137),(99.8,45,105)]
AL_nc = [(97.2,60,95),(98.0,70,125),(98.8,75,150),(99.7,70,145),(100.5,52,120)]
MS_nc = [(97.0,85,110),(97.9,100,150),(98.8,95,190),(99.4,100,200),(100.3,110,205)]
DF_nc = [(98.2,70,80),(99.1,70,90),(100.0,63,100)]
MG_nc = [(97.8,700,760),(98.7,680,810),(99.6,623,760)]
SE_nc = [(96.4,40,55),(97.3,45,72),(98.2,45,94),(99.3,20,70),(100.4,0,40)]
SP_nc = [(97.5,1600,1850),(98.3,1450,2300),(99.2,1400,2100)]
RJ_nc = [(97.8,640,720),(98.6,560,750),(99.4,450,720),(100.2,375,640)]
ES_nc = [(98.6,40,50),(99.4,35,72),(100.3,32,75)]
PR_nc = [(98.6,330,420),(99.5,300,440),(100.4,294,380)]

marcas_y = {
    'RR': [0, 20, 40, 60], 'AP': [0, 20, 40, 60],
    'AM': [0, 250, 500, 750, 1000], 'PA': [0, 200, 400, 600, 800],
    'MA': [0, 100, 200, 300], 'CE': [0, 300, 600, 900],
    'AC': [0, 100, 200, 300, 400], 'RO': [0, 100, 200, 300],
    'TO': [0, 50, 100, 150], 'PI': [0, 50, 100, 150, 200],
    'PB': [0, 100, 200, 300], 'RN': [0, 100, 200],
    'MT': [0, 100, 200, 300], 'GO': [0, 300, 600, 900],
    'BA': [0, 200, 400, 600], 'PE': [0, 250, 500, 750], 'AL': [0, 100, 200],
    'MS': [0, 100, 200, 300, 400], 'DF': [0, 100, 200, 300, 400],
    'MG': [0, 1000, 2000], 'SE': [0, 50, 100, 150, 200],
    'SP': [0, 2000, 4000, 6000], 'RJ': [0, 500, 1000, 1500, 2000],
    'ES': [0, 100, 200], 'PR': [0, 500, 1000], 'SC': [0, 250, 500, 750],
    'RS': [0, 500, 1000, 1500, 2000],
}

meses = ['mai', 'ago', 'nov', 'fev', 'mai', 'ago', 'nov', 'fev']
meses_datas = pd.to_datetime(['2020-05-01', '2020-08-01', '2020-11-01', '2021-02-01',
                              '2021-05-01', '2021-08-01', '2021-11-01', '2022-02-01'])

# grade geografica (linha, coluna)
posicao = {
    'RR': (0, 1), 'AP': (0, 2),
    'AM': (1, 1), 'PA': (1, 2), 'MA': (1, 3), 'CE': (1, 4),
    'AC': (2, 0), 'RO': (2, 1), 'TO': (2, 2), 'PI': (2, 3), 'PB': (2, 4), 'RN': (2, 5),
    'MT': (3, 1), 'GO': (3, 2), 'BA': (3, 3), 'PE': (3, 4), 'AL': (3, 5),
    'MS': (4, 1), 'DF': (4, 2), 'MG': (4, 3), 'SE': (4, 4),
    'SP': (5, 2), 'RJ': (5, 3), 'ES': (5, 4),
    'PR': (6, 2), 'SC': (6, 3),
    'RS': (7, 2),
}

series = {'RR': RR, 'AP': AP, 'AM': AM, 'PA': PA, 'MA': MA, 'CE': CE, 'AC': AC, 'RO': RO,
          'TO': TO, 'PI': PI, 'PB': PB, 'RN': RN, 'MT': MT, 'GO': GO, 'BA': BA, 'PE': PE,
          'AL': AL, 'MS': MS, 'DF': DF, 'MG': MG, 'SE': SE, 'SP': SP, 'RJ': RJ, 'ES': ES,
          'PR': PR, 'SC': SC, 'RS': RS}
faixas = {'RR': RR_nc, 'AP': AP_nc, 'AM': AM_nc, 'PA': PA_nc, 'MA': MA_nc, 'CE': CE_nc,
          'AC': AC_nc, 'RO': RO_nc, 'TO': TO_nc, 'PI': PI_nc, 'PB': PB_nc, 'RN': RN_nc,
          'MT': MT_nc, 'GO': GO_nc, 'BA': BA_nc, 'PE': PE_nc, 'AL': AL_nc, 'MS': MS_nc,
          'DF': DF_nc, 'MG': MG_nc, 'SE': SE_nc, 'SP': SP_nc, 'RJ': RJ_nc, 'ES': ES_nc,
          'PR': PR_nc}


def para_data(semanas):
    return (inicio + pd.to_timedelta(np.asarray(semanas) * 7, unit='D')).to_numpy()


# limites de x comuns a todos os paineis
todas = np.concatenate([np.array(s)[:, 0] for s in series.values()])
x_lo, x_hi = todas.min(), todas.max()
folga = 0.05 * (x_hi - x_lo)
xlim = para_data([x_lo - folga, x_hi + folga])

ultima_linha = {}
for uf, (r, c) in posicao.items():
    ultima_linha[c] = max(ultima_linha.get(c, 0), r)

W, H = 3300, 3600
col_x = [142, 698, 1256, 1812, 2346, 2879]
larg = 420
tam_eixo = 9.3


def caixa(x, y, w, h):
    return [x / W, 1 - (y + h) / H, w / W, h / H]


fig = plt.figure(figsize=(11, 12), dpi=300)

for uf, (r, c) in posicao.items():
    topo = 80.4 + 428.8 * r
    x0 = col_x[c]

    # faixa do titulo do painel
    ax_s = fig.add_axes(caixa(x0, topo, larg, 70))
    ax_s.set_facecolor('#D9D9D9')
    ax_s.set_xticks([])
    ax_s.set_yticks([])
    for sp in ax_s.spines.values():
        sp.set_color('#333333')
        sp.set_linewidth(0.6)
    ax_s.text(0.5, 0.5, uf, ha='center', va='center', fontsize=8.8,
              color='#1A1A1A', transform=ax_s.transAxes)

    ax = fig.add_axes(caixa(x0, topo + 72, larg, 333))
    d = np.array(series[uf], dtype=float)
    y_all = list(d[:, 1])
    if uf in faixas:
        f = np.array(faixas[uf], dtype=float)
        ax.fill_between(para_data(f[:, 0]), f[:, 1], f[:, 2], color='#C6DBEF', lw=0, zorder=2)
        y_all += list(f[:, 1]) + list(f[:, 2])
    ax.plot(para_data(d[:, 0]), d[:, 1], color='black', lw=0.9, zorder=3)

    for sp in ax.spines.values():
        sp.set_visible(False)
    ax.set_facecolor('none')
    ax.set_axisbelow(True)
    ax.yaxis.grid(True, color='#EBEBEB', lw=0.7)
    ax.set_yticks(marcas_y[uf])
    ax.set_yticklabels([str(v) for v in marcas_y[uf]])
    lo, hi = min(y_all), max(y_all)
    pad = 0.05 * (hi - lo)
    ax.set_ylim(lo - pad, hi + pad)
    ax.tick_params(axis='y', length=2.7, width=0.7, color='#333333', labelsize=tam_eixo,
                   labelcolor='#4D4D4D', pad=1.5)

    if ultima_linha[c] == r:
        ax.set_xticks(meses_datas.to_numpy())
        ax.set_xticklabels(meses)
        ax.tick_params(axis='x', length=2.7, width=0.7, color='#333333', labelsize=tam_eixo,
                       labelcolor='#4D4D4D', pad=1.5)
    else:
        ax.set_xticks([])
    ax.set_xlim(xlim[0], xlim[1])

fig.text(142 / W, 1 - 44 / H, 'Obitos Covid', fontsize=14, ha='left', va='baseline')
fig.text(18 / W, 1 - 1830 / H, 'Número de novos óbitos', fontsize=10, rotation=90,
         ha='center', va='center')
fig.text(1720 / W, 1 - 3576 / H, 'Data do primeiro sintoma', fontsize=10,
         ha='center', va='center')

fig.savefig('out.png', dpi=300)
